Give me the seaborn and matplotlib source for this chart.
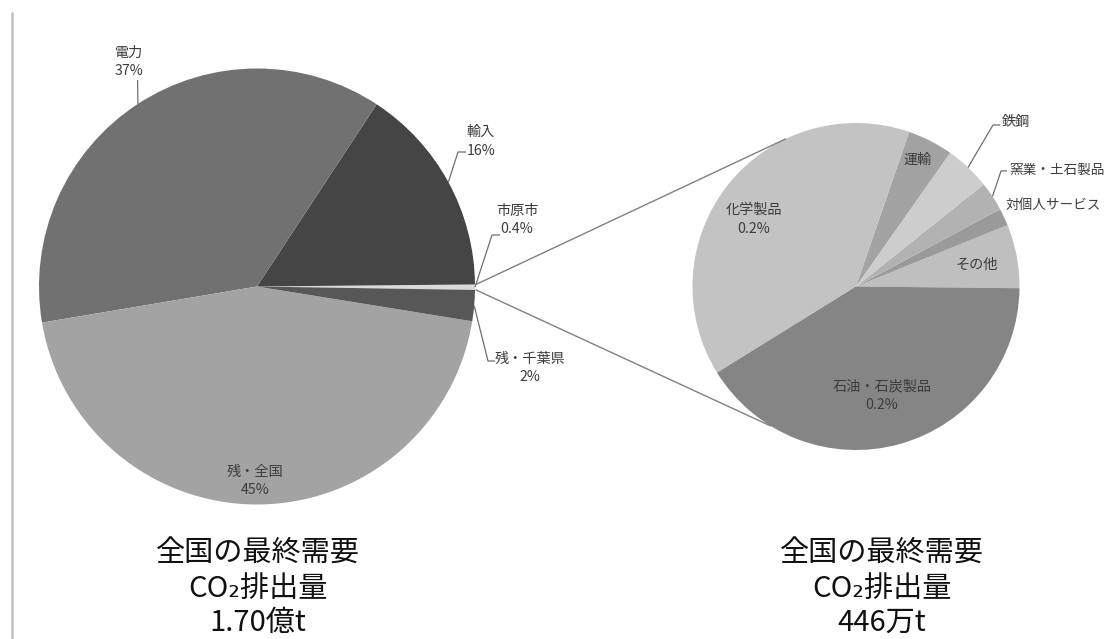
import matplotlib
matplotlib.use("Agg")
import matplotlib.pyplot as plt
import numpy as np
import seaborn as sns

# National final-demand CO2 emissions by origin (万t), total 1.70億t
nat_labels = ["市原市", "輸入", "電力", "残・全国", "残・千葉県"]
nat_values = [68, 2652, 6273, 7616, 391]
nat_colors = ["#dadada", "#454545", "#717171", "#a3a3a3", "#575757"]

# Breakdown of the 市原市 slice by industry (% of the national total)
city_labels = ["その他", "対個人サービス", "窯業・土石製品", "鉄鋼", "運輸", "化学製品", "石油・石炭製品"]
city_values = [0.0252, 0.0068, 0.0116, 0.0180, 0.0180, 0.1564, 0.1640]
city_colors = ["#bfbfbf", "#9a9a9a", "#b2b2b2", "#cdcdcd", "#a3a3a3", "#c3c3c3", "#858585"]
city_pct_shown = ["化学製品", "石油・石炭製品"]

left_title = ["全国の最終需要", "CO₂排出量", "1.70億t"]
right_title = ["全国の最終需要", "CO₂排出量", "446万t"]

sns.set_theme(style="white")
plt.rcParams["font.family"] = ["Noto Sans CJK JP", "DejaVu Sans"]

W, H = 1108, 639
fig = plt.figure(figsize=(W / 100, H / 100), dpi=100)
ax = fig.add_axes([0, 0, 1, 1])


def P(x, y):
    """Canvas position measured from the top-left corner."""
    return (x, H - y)


L_C, L_R = P(257, 286.5), 218
R_C, R_R = P(856, 286.5), 163.5


def on_circle(c, r, ang):
    a = np.deg2rad(ang)
    return (c[0] + r * np.cos(a), c[1] + r * np.sin(a))


wl, _ = ax.pie(nat_values, colors=nat_colors, startangle=-0.9, center=L_C,
               radius=L_R, wedgeprops=dict(linewidth=0))
wr, _ = ax.pie(city_values, colors=city_colors, startangle=-0.6, center=R_C,
               radius=R_R, wedgeprops=dict(linewidth=0))

ax.set_xlim(0, W)
ax.set_ylim(0, H)
ax.set_aspect("equal")
ax.axis("off")

LBL = dict(color="#3c3c3c", linespacing=1.45)
LEAD = dict(color="#6f6f6f", lw=0.9, solid_capstyle="butt")


def pct_text(v, total):
    p = v / total * 100
    return f"{p:.1f}%" if p < 1 else f"{p:.0f}%"


nat_total = sum(nat_values)
# label block centre (top-left based) and leader points for each national slice
nat_layout = {
    "電力": ((129, 62), [(137.6, 80)]),
    "輸入": ((481, 141.5), [(458, 152), (466, 152)]),
    "市原市": ((517, 220), [(492, 235), (500, 235)]),
    "残・千葉県": ((530, 368), [(488, 361), (495, 361)]),
    "残・全国": ((255, 481), None),
}
for w, name, v in zip(wl, nat_labels, nat_values):
    (tx, ty), lead = nat_layout[name]
    ax.text(*P(tx, ty), f"{name}\n{pct_text(v, nat_total)}", ha="center",
            va="center", multialignment="center", fontsize=10.2, **LBL)
    if lead:
        mid = (w.theta1 + w.theta2) / 2
        pts = [on_circle(L_C, L_R, mid)] + [P(*p) for p in lead]
        xs, ys = zip(*pts)
        ax.plot(xs, ys, **LEAD)

# labels of the industry breakdown: position, alignment, size, leader points
city_layout = {
    "その他": ((977, 265), "center", 10.2, None),
    "対個人サービス": ((1006, 205), "left", 9.8, None),
    "窯業・土石製品": ((1009, 170), "left", 9.8, [(1001, 171), (1007, 171)]),
    "鉄鋼": ((1002, 122), "left", 10.2, [(993, 125), (1000, 125)]),
    "運輸": ((918, 160), "center", 10.2, None),
    "化学製品": ((754, 219.5), "center", 10.2, None),
    "石油・石炭製品": ((882, 395.5), "center", 10.2, None),
}
for w, name, v in zip(wr, city_labels, city_values):
    (tx, ty), ha, fs, lead = city_layout[name]
    s = f"{name}\n{v:.1f}%" if name in city_pct_shown else name
    ax.text(*P(tx, ty), s, ha=ha, va="center", multialignment="center",
            fontsize=fs, **LBL)
    if lead:
        mid = (w.theta1 + w.theta2) / 2
        pts = [on_circle(R_C, R_R, mid)] + [P(*p) for p in lead]
        xs, ys = zip(*pts)
        ax.plot(xs, ys, **LEAD)

# connectors from the 市原市 slice to the breakdown pie
sliver = wl[0]
for ang_l, ang_r in [(sliver.theta2, 115.5), (sliver.theta1, 238.5)]:
    a = on_circle(L_C, L_R + 1, ang_l)
    b = on_circle(R_C, R_R, ang_r)
    ax.plot([a[0], b[0]], [a[1], b[1]], color="#808080", lw=1.0)

# pie captions
for cx, lines in [(258, left_title), (882, right_title)]:
    for y, s in zip([554, 589, 623], lines):
        ax.text(*P(cx, y), s, ha="center", va="center", fontsize=21,
                color="#111111")

# thin rule on the left edge
ax.plot(*zip(P(11.5, 13), P(11.5, 639)), color="#c8c8c8", lw=2)

fig.savefig("out.png", dpi=100)
